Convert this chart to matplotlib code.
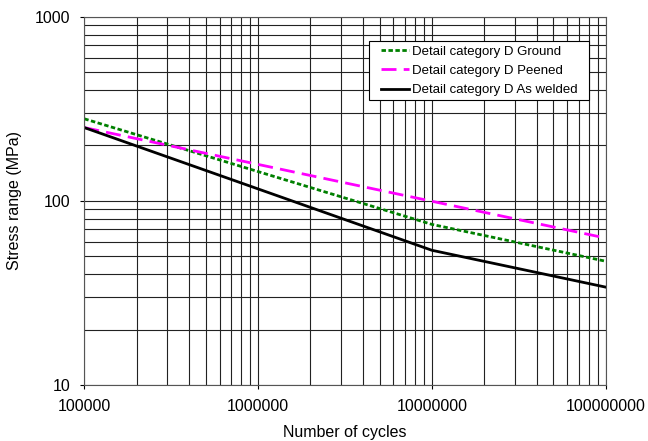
import matplotlib
matplotlib.use("Agg")
import matplotlib.pyplot as plt
from matplotlib.patches import Rectangle
from matplotlib.ticker import FixedLocator, NullFormatter, FuncFormatter

plt.rcParams['font.family'] = ['Liberation Sans', 'DejaVu Sans']

# S-N curves for detail category D (cycles vs stress range in MPa)
cycles = [1e5, 1e7, 1e8]
ground = [279, 74.5, 47]
peened = [250, 99.5, 62.8]
as_welded = [250, 53.9, 34]

x_ticks = [1e5, 1e6, 1e7, 1e8]
x_labels = ["100000", "1000000", "10000000", "100000000"]
y_ticks = [10, 100, 1000]
y_labels = ["10", "100", "1000"]

fig = plt.figure(figsize=(6.48, 4.41), dpi=100)
ax = fig.add_axes([0.1301, 0.127, 0.8046, 0.8351])

ax.plot(cycles, ground, color='#008000', lw=2.0, linestyle=(0, (1.6, 0.9)),
        label='Detail category D Ground')
ax.plot(cycles, peened, color='#ff00ff', lw=2.0, linestyle=(0, (5.4, 2.6)),
        label='Detail category D Peened')
ax.plot(cycles, as_welded, color='black', lw=2.0,
        label='Detail category D As welded')

ax.set_xscale('log')
ax.set_yscale('log')
ax.set_xlim(1e5, 1e8)
ax.set_ylim(10, 1000)

ax.xaxis.set_major_locator(FixedLocator(x_ticks))
ax.xaxis.set_major_formatter(FuncFormatter(lambda v, p: x_labels[x_ticks.index(v)] if v in x_ticks else ""))
ax.yaxis.set_major_locator(FixedLocator(y_ticks))
ax.yaxis.set_major_formatter(FuncFormatter(lambda v, p: y_labels[y_ticks.index(v)] if v in y_ticks else ""))

minor_x = [m * 10 ** e for e in range(5, 8) for m in range(2, 10)]
minor_y = [m * 10 ** e for e in range(1, 3) for m in range(2, 10)]
ax.xaxis.set_minor_locator(FixedLocator(minor_x))
ax.yaxis.set_minor_locator(FixedLocator(minor_y))
ax.xaxis.set_minor_formatter(NullFormatter())
ax.yaxis.set_minor_formatter(NullFormatter())

ax.grid(True, which='both', color='#222222', lw=0.8)
ax.set_axisbelow(True)
ax.tick_params(which='major', direction='out', length=3, width=0.8,
               labelsize=11.5, pad=7)
ax.tick_params(which='minor', length=0)
for s in ax.spines.values():
    s.set_color('#555555')
    s.set_linewidth(0.8)

ax.set_xlabel('Number of cycles', fontsize=11.5, labelpad=8)
ax.set_ylabel('Stress range (MPa)', fontsize=11.5, labelpad=9)

leg = ax.legend(loc='upper right', bbox_to_anchor=(0.9455, 0.922), fontsize=9.5,
                frameon=False, handlelength=2.1, handletextpad=0.2,
                borderpad=0.0, borderaxespad=0.0, labelspacing=0.54)
leg.set_zorder(6)

# white box around the legend, wider padding left/right than top/bottom
fig.canvas.draw()
bb = leg.get_window_extent()
padx, pady = 12, 4
box = Rectangle((bb.x0 - padx, bb.y0 - pady), bb.width + 2 * padx, bb.height + 2 * pady,
                transform=None, facecolor='white', edgecolor='black', lw=0.8, zorder=5)
ax.add_artist(box)

fig.savefig('out.png', dpi=100)
